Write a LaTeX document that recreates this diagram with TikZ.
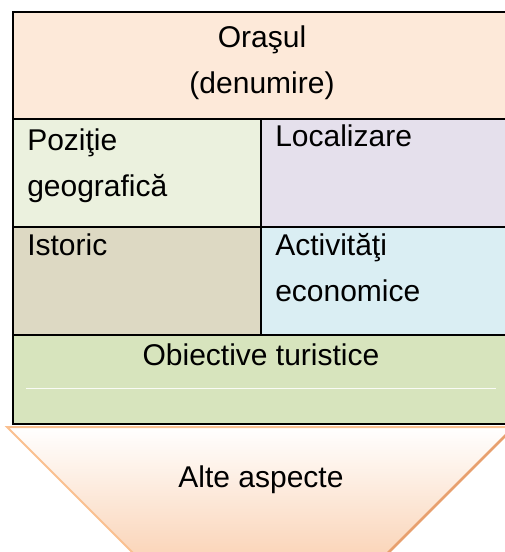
\documentclass[tikz,border=0pt]{standalone}
\usepackage{fontspec}
\setmainfont{Liberation Sans}
\usetikzlibrary{positioning}
\definecolor{CityPeach}{RGB}{253,233,217}
\definecolor{PosGreen}{RGB}{235,241,222}
\definecolor{LocLilac}{RGB}{229,224,236}
\definecolor{HistTan}{RGB}{221,217,195}
\definecolor{EconBlue}{RGB}{218,238,243}
\definecolor{SightGreen}{RGB}{215,228,189}
\definecolor{FunnelPeach}{RGB}{250,210,180}
\definecolor{FunnelEdge}{RGB}{250,192,144}
\definecolor{FunnelDark}{RGB}{232,160,110}

\begin{document}
\begin{tikzpicture}[
x=0.75pt,y=-0.75pt,
cell/.style={draw=black,line width=1.6pt},
label/.style={inner sep=0pt,font=\fontsize{22.5}{34.5}\selectfont,align=left,anchor=north west},
title/.style={label,align=center,anchor=north}
]
\useasboundingbox (0,0) rectangle (505,552);
% table cells
\fill[CityPeach] (13,12) rectangle (512,119);
\fill[PosGreen] (13,119) rectangle (261,227);
\fill[LocLilac] (261,119) rectangle (512,227);
\fill[HistTan] (13,227) rectangle (261,335);
\fill[EconBlue] (261,227) rectangle (512,335);
\fill[SightGreen] (13,335) rectangle (512,424);
\draw[white!85!SightGreen,line width=0.6pt] (26,388) -- (496,388);
\draw[cell] (13,12) rectangle (512,424);
\draw[cell] (13,119) -- (512,119) (13,227) -- (512,227) (13,335) -- (512,335);
\draw[cell] (261,119) -- (261,335);
% funnel
\shade[top color=white,bottom color=FunnelPeach] (7,427) -- (514,427) -- (376,565) -- (145,565) -- cycle;
\draw[FunnelEdge,line width=1.5pt] (376,565) -- (145,565) -- (7,427) -- (514,427);
\draw[FunnelDark,line width=2pt] (514,427) -- (376,565);
% texts
\node[title] (city) at (262,25) {Oraşul\\(denumire)};
\node[label] (pos) at (27,128) {Poziţie\\geografică};
\node[label] (loc) at (275,124) {Localizare};
\node[label] (hist) at (27,233) {Istoric};
\node[label] (econ) at (275,233) {Activităţi\\economice};
\node[title] (sights) at (261,343) {Obiective turistice};
\node[title] (other) at (261,465) {Alte aspecte};
\end{tikzpicture}
\end{document}
